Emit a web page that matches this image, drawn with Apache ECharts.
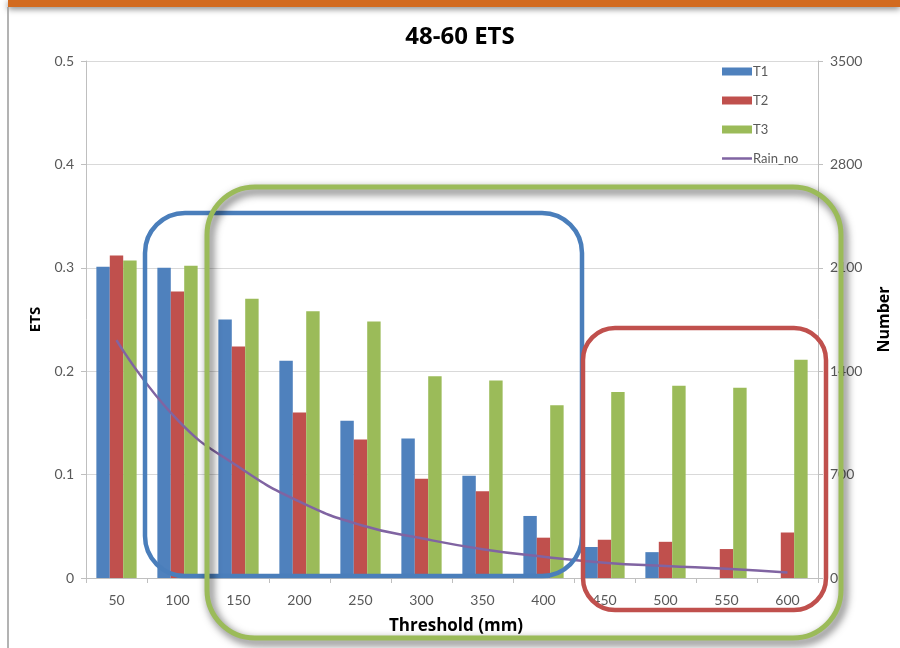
<!DOCTYPE html>
<html>
<head>
<meta charset="utf-8">
<script src="https://cdn.jsdelivr.net/npm/echarts@6/dist/echarts.min.js"></script>
<style>
html,body{margin:0;padding:0;background:#fff;}
#c{width:900px;height:648px;}
</style>
</head>
<body>
<div id="c"></div>
<script>
var categories = ['50','100','150','200','250','300','350','400','450','500','550','600'];
var t1 = [0.301,0.300,0.250,0.210,0.152,0.135,0.099,0.060,0.030,0.025,null,null];
var t2 = [0.312,0.277,0.224,0.160,0.134,0.096,0.084,0.039,0.037,0.035,0.028,0.044];
var t3 = [0.307,0.302,0.270,0.258,0.248,0.195,0.191,0.167,0.180,0.186,0.184,0.211];
var rainNo = [1610,1070,753,517,359,269,195,144,104,81,63,38];

var FONT = 'Lato';
var grey = '#595959';
var chart = echarts.init(document.getElementById('c'));
chart.setOption({
  animation:false,
  title:{text:'48-60 ETS', left:455, top:20, textAlign:'center',
    textStyle:{fontFamily:'Open Sans', fontSize:24, fontWeight:'bold', color:'#000'}},
  legend:{orient:'vertical', left:717, top:60, itemWidth:30, itemHeight:8, itemGap:16,
    textStyle:{fontFamily:FONT, fontSize:13, color:grey, padding:[0,0,0,-4]},
    data:[{name:'T1',icon:'rect'},{name:'T2',icon:'rect'},{name:'T3',icon:'rect'},
      {name:'Rain_no',icon:'path://M0,0L0.01,0L0.01,0.01Z M0,2.75L30,2.75L30,5.25L0,5.25Z M0,8L0.01,8L0.01,8.01Z'}]},
  grid:{left:86, right:80, top:61, bottom:70},
  xAxis:{type:'category', data:categories,
    name:'Threshold (mm)', nameLocation:'middle', nameGap:40,
    nameTextStyle:{fontFamily:'Open Sans', fontSize:17, fontWeight:'bold', color:'#000', padding:[0,0,0,8]},
    axisLine:{lineStyle:{color:'#bfbfbf'}},
    axisTick:{show:true, length:5, lineStyle:{color:'#bfbfbf'}},
    axisLabel:{fontFamily:FONT, fontSize:14, color:grey, margin:15}},
  yAxis:[
    {type:'value', min:0, max:0.5, interval:0.1,
      name:'ETS', nameLocation:'middle', nameGap:43, nameRotate:90,
      nameTextStyle:{fontFamily:'Open Sans', fontSize:15, fontWeight:'bold', color:'#000'},
      axisLine:{show:true, lineStyle:{color:'#bfbfbf'}},
      axisTick:{show:true, length:5, lineStyle:{color:'#bfbfbf'}},
      splitLine:{lineStyle:{color:'#d9d9d9'}},
      axisLabel:{fontFamily:FONT, fontSize:14, color:grey, margin:12}},
    {type:'value', min:0, max:3500, interval:700,
      name:'Number', nameLocation:'middle', nameGap:58, nameRotate:90,
      nameTextStyle:{fontFamily:'Open Sans', fontSize:16, fontWeight:'bold', color:'#000'},
      axisLine:{show:true, lineStyle:{color:'#bfbfbf'}},
      axisTick:{show:true, length:5, lineStyle:{color:'#bfbfbf'}},
      splitLine:{show:false},
      axisLabel:{fontFamily:FONT, fontSize:14, color:grey, margin:12, formatter:function(v){return String(v);}}}
  ],
  series:[
    {name:'T1', type:'bar', data:t1, barGap:'0%', barCategoryGap:'34%', itemStyle:{color:'#4f81bd'}},
    {name:'T2', type:'bar', data:t2, itemStyle:{color:'#c0504d'}},
    {name:'T3', type:'bar', data:t3, itemStyle:{color:'#9bbb59'}},
    {name:'Rain_no', type:'line', yAxisIndex:1, data:rainNo, smooth:true, symbol:'none',
      lineStyle:{color:'#8064a2', width:2.5}, itemStyle:{color:'#8064a2'}}
  ],
  graphic:[
    {type:'rect', z:200, shape:{x:8,y:0,width:892,height:7}, style:{fill:'#d26a1f', shadowBlur:6, shadowOffsetY:2, shadowColor:'rgba(0,0,0,0.5)'}},
    {type:'line', z:200, shape:{x1:8,y1:7,x2:8,y2:648}, style:{stroke:'#9a9a9a', lineWidth:1.5}},
    {type:'rect', z:150, shape:{x:145,y:213,width:437,height:363,r:40}, style:{fill:'none', stroke:'#4a7ebb', lineWidth:4.5}},
    {type:'rect', z:160, shape:{x:207,y:187,width:634,height:451,r:48}, style:{fill:'none', stroke:'#9bbb59', lineWidth:5, shadowBlur:8, shadowOffsetX:3, shadowOffsetY:4, shadowColor:'rgba(0,0,0,0.7)'}},
    {type:'rect', z:170, shape:{x:583,y:328,width:243,height:282,r:32}, style:{fill:'none', stroke:'#c0504d', lineWidth:4.5}}
  ]
});
</script>
</body>
</html>
